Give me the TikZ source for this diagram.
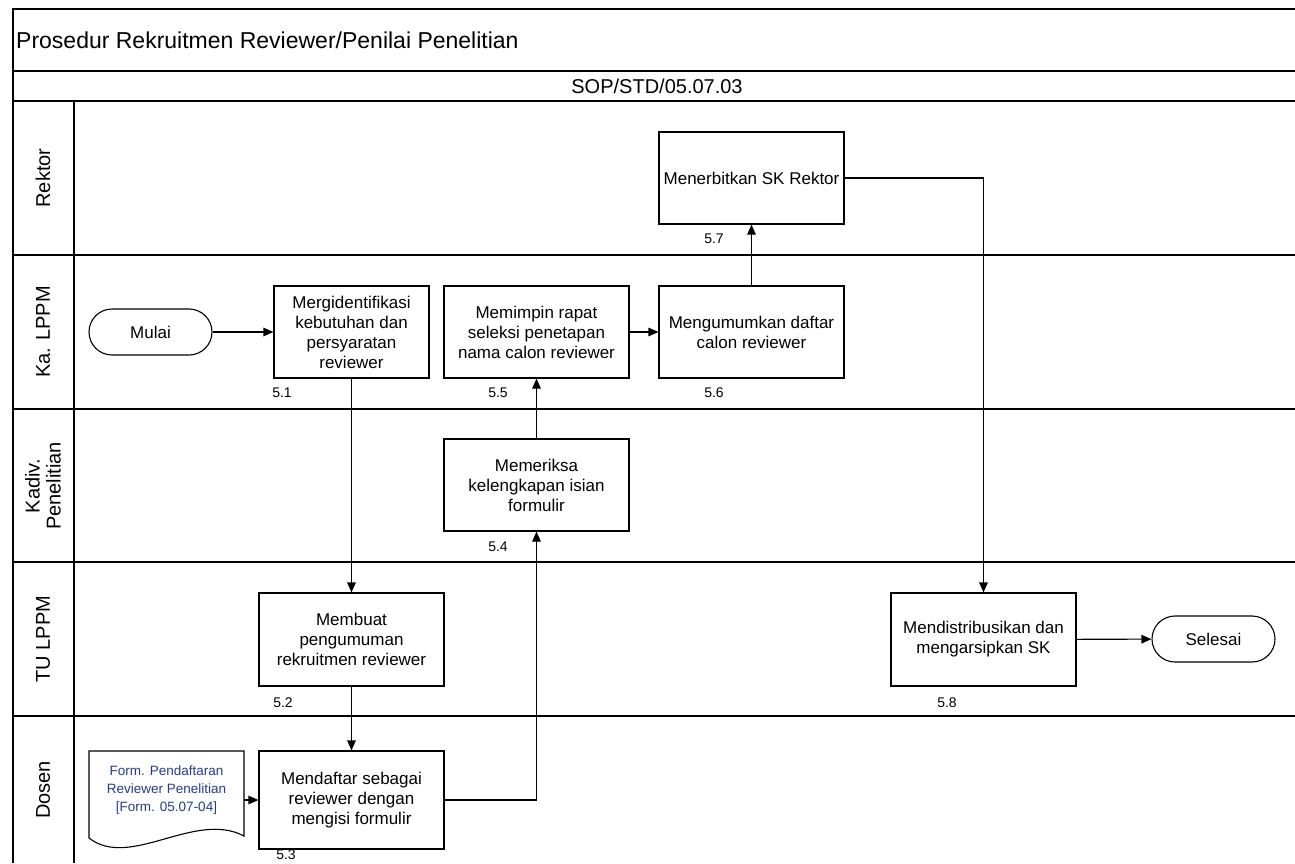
\documentclass[tikz,border=0pt]{standalone}
\usepackage{fontspec}
\setmainfont{Liberation Sans}
\usetikzlibrary{arrows.meta}
\definecolor{docblue}{RGB}{38,58,138}
\begin{document}
\begin{tikzpicture}[x=1pt,y=-1pt,
  lane/.style={line width=1.6pt},
  proc/.style={draw, line width=1.1pt, minimum width=185pt, minimum height=92pt, align=center, font=\fontsize{17}{20}\selectfont, inner sep=2pt},
  term/.style={draw, line width=1.1pt, rounded corners=23pt, minimum width=123pt, minimum height=46pt, font=\fontsize{17}{20}\selectfont},
  num/.style={font=\fontsize{14}{16}\selectfont},
  lanelbl/.style={rotate=90, font=\fontsize{20}{21}\selectfont, align=center},
  arr/.style={line width=1.1pt, -{Triangle[length=10pt,width=8.5pt]}},
  conn/.style={line width=1.1pt}]
\useasboundingbox (0,0) rectangle (1295,863);
% frame
\draw[lane] (13,863) -- (13,9) -- (1295,9);
\draw[lane] (13,71) -- (1295,71);
\draw[lane] (13,101) -- (1295,101);
\foreach \yy in {255,409,562,716} \draw[lane] (13,\yy) -- (1295,\yy);
\draw[lane] (74,101) -- (74,863);
% headings
\node[anchor=west, font=\fontsize{23}{27}\selectfont, inner sep=0pt] (title) at (16,40) {Prosedur Rekruitmen Reviewer/Penilai Penelitian};
\node[font=\fontsize{20}{23}\selectfont] (sop) at (657,86) {SOP/STD/05.07.03};
% lane labels
\node[lanelbl] (lrek) at (43,178) {Rektor};
\node[lanelbl] (lka) at (43,332) {Ka. LPPM};
\node[lanelbl] (lkad) at (43,486) {Kadiv.\\Penelitian};
\node[lanelbl] (ltu) at (43,639) {TU LPPM};
\node[lanelbl] (ldos) at (43,790) {Dosen};
% nodes
\node[term] (mulai) at (150.5,332) {Mulai};
\node[proc, minimum width=155pt] (b51) at (351.5,332) {Mergidentifikasi\\kebutuhan dan\\persyaratan\\reviewer};
\node[proc] (b55) at (536.5,332) {Memimpin rapat\\seleksi penetapan\\nama calon reviewer};
\node[proc] (b56) at (751.5,332) {Mengumumkan daftar\\calon reviewer};
\node[proc] (b57) at (751.5,178) {Menerbitkan SK Rektor};
\node[proc] (b54) at (536.5,485) {Memeriksa\\kelengkapan isian\\formulir};
\node[proc, minimum height=93pt] (b52) at (351.5,639.5) {Membuat\\pengumuman\\rekruitmen reviewer};
\node[proc, minimum height=98pt] (b53) at (351.5,800) {Mendaftar sebagai\\reviewer dengan\\mengisi formulir};
\node[proc, minimum height=93pt] (b58) at (983.5,639.5) {Mendistribusikan dan\\mengarsipkan SK};
\node[term] (selesai) at (1213.5,639) {Selesai};
% document
\node[font=\fontsize{13.5}{18}\selectfont, text=docblue, align=center, minimum width=155pt, minimum height=78pt, inner sep=0pt] (doc) at (166.5,790) {Form. Pendaftaran\\Reviewer Penelitian\\{[Form. 05.07-04]}};
\draw[line width=1.1pt] (89,838) -- (89,751) -- (244,751) -- (244,836)
  .. controls (195,810) and (130,870) .. (89,838);
% numbers
\node[num] (n51) at (282,393) {5.1};
\node[num] (n55) at (498,393) {5.5};
\node[num] (n56) at (714,393) {5.6};
\node[num] (n57) at (714,239) {5.7};
\node[num] (n54) at (498,547) {5.4};
\node[num] (n52) at (283,703) {5.2};
\node[num] (n53) at (286,855) {5.3};
\node[num] (n58) at (947,703) {5.8};
% connectors
\draw[arr] (mulai) -- (b51);
\draw[arr] (b51) -- (b52);
\draw[arr] (b52) -- (b53);
\draw[arr] (doc.east |- b53.west) -- (b53.west);
\draw[arr] (b53.east) -| (b54.south);
\draw[arr] (b54) -- (b55);
\draw[arr] (b55) -- (b56);
\draw[arr] (b56) -- (b57);
\draw[arr] (b57.east) -| (b58.north);
\draw[arr] (b58) -- (selesai);
\end{tikzpicture}
\end{document}
